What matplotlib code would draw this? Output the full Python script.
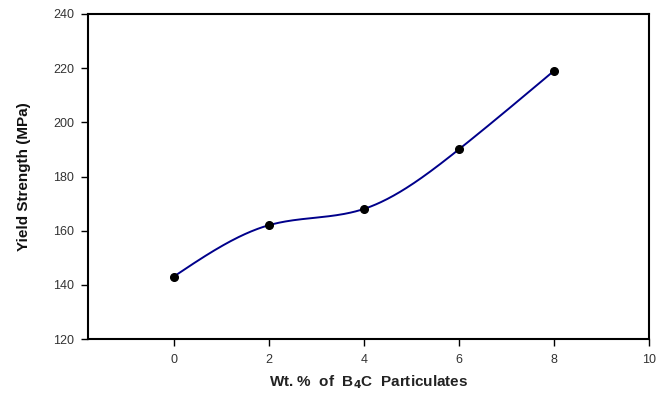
import numpy as np
import matplotlib
matplotlib.use("Agg")
import matplotlib.pyplot as plt

wt_pct = [0, 2, 4, 6, 8]
yield_strength = [143, 162, 168, 190, 219]
x_ticks = [0, 2, 4, 6, 8, 10]
y_ticks = [120, 140, 160, 180, 200, 220, 240]

def natural_spline(x, y, n=300):
    x = np.asarray(x, float); y = np.asarray(y, float)
    k = len(x); h = np.diff(x)
    A = np.zeros((k, k)); b = np.zeros(k)
    A[0, 0] = A[-1, -1] = 1
    for i in range(1, k - 1):
        A[i, i - 1] = h[i - 1]; A[i, i] = 2 * (h[i - 1] + h[i]); A[i, i + 1] = h[i]
        b[i] = 3 * ((y[i + 1] - y[i]) / h[i] - (y[i] - y[i - 1]) / h[i - 1])
    c = np.linalg.solve(A, b)
    xs = np.linspace(x[0], x[-1], n); ys = np.empty_like(xs)
    for j, t in enumerate(xs):
        i = min(np.searchsorted(x, t, side="right") - 1, k - 2)
        bi = (y[i + 1] - y[i]) / h[i] - h[i] * (2 * c[i] + c[i + 1]) / 3
        di = (c[i + 1] - c[i]) / (3 * h[i])
        d = t - x[i]
        ys[j] = y[i] + bi * d + c[i] * d ** 2 + di * d ** 3
    return xs, ys

plt.rcParams['font.family'] = ['Liberation Sans', 'DejaVu Sans']
fig = plt.figure(figsize=(6.66, 3.93), dpi=100)
ax = fig.add_axes([88 / 666, 1 - 339 / 393, (649 - 88) / 666, (339 - 14) / 393])

xs, ys = natural_spline(wt_pct, yield_strength)
ax.plot(xs, ys, color="#00008B", lw=1.4, zorder=2)
ax.plot(wt_pct, yield_strength, "o", color="black", ms=5.5, zorder=3)

ax.set_xlim(-1.8, 10)
ax.set_ylim(120, 240)
ax.set_xticks(x_ticks)
ax.set_yticks(y_ticks)
ax.tick_params(direction="out", length=5, width=1, colors="black", labelsize=9,
               labelcolor="#333333", top=False, right=False)
ax.tick_params(axis="y", pad=5)
ax.tick_params(axis="x", pad=6)
for s in ax.spines.values():
    s.set_linewidth(1.5)
ax.set_xlabel("Wt. %  of  B$_\\mathbf{4}$C  Particulates", fontsize=11, fontweight="bold",
              color="#222222", labelpad=5)
ax.set_ylabel("Yield Strength (MPa)", fontsize=11, fontweight="bold", color="#111111", labelpad=16)

fig.savefig("out.png", dpi=100)
